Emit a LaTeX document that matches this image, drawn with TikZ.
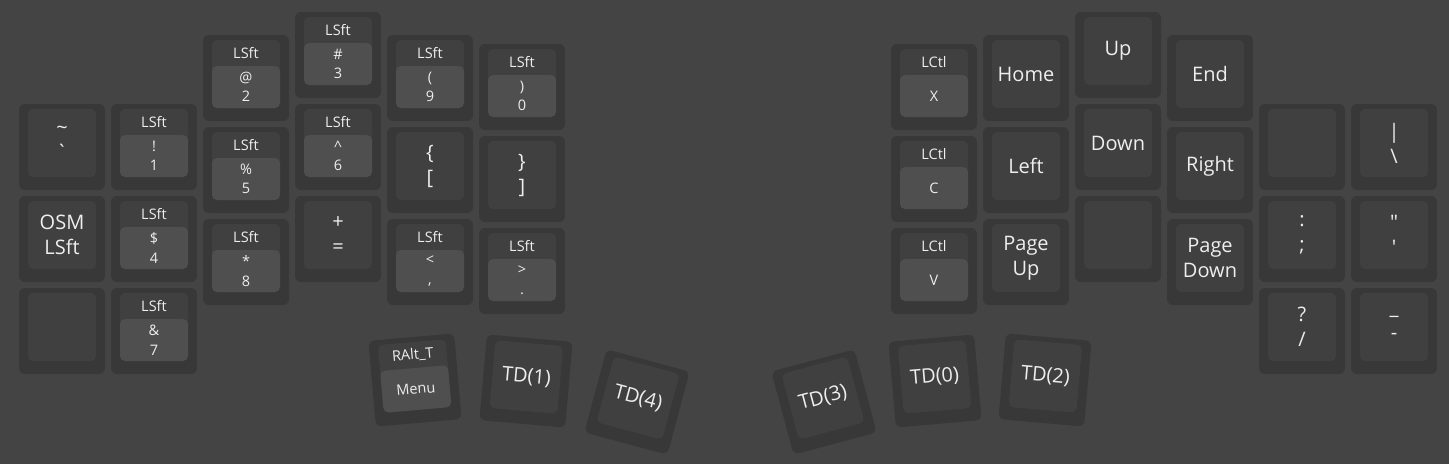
\documentclass[tikz,border=0pt]{standalone}
\usepackage{fontspec}
\setmainfont{Open Sans}
\usetikzlibrary{positioning}

\definecolor{boardbg}{HTML}{444444}
\definecolor{keyrim}{HTML}{383838}
\definecolor{keyface}{HTML}{404040}
\definecolor{tapface}{HTML}{4F4F4F}
\definecolor{legend}{HTML}{EEEEEE}

\newcommand{\legendfont}{\fontsize{20}{25}\selectfont}
\newcommand{\smallfont}{\fontsize{14.5}{19.5}\selectfont}

% name, x, y, angle, legend
\newcommand{\plainkey}[5]{%
  \begin{scope}[shift={(#2,#3)}, rotate=#4, transform shape]
    \node[keycap] (#1) at (0,0) {};
    \node[keytop] (#1-top) at (0,4) {#5};
  \end{scope}}

% name, x, y, angle, hold, tap
\newcommand{\holdkey}[6]{%
  \begin{scope}[shift={(#2,#3)}, rotate=#4, transform shape]
    \node[keycap] (#1) at (0,0) {};
    \node[keytop] (#1-top) at (0,4) {};
    \node[tapbox] (#1-tap) at (0,-9) {#6};
    \node[holdlabel] (#1-hold) at (0,25) {#5};
  \end{scope}}

\begin{document}
\begin{tikzpicture}[
  x=1pt, y=1pt,
  keycap/.style={fill=keyrim, rounded corners=6pt, minimum width=86pt,
    minimum height=86pt, inner sep=0pt},
  keytop/.style={fill=keyface, rounded corners=5pt, minimum width=68pt,
    minimum height=68pt, inner sep=0pt, align=center, text=legend, font=\legendfont},
  tapbox/.style={fill=tapface, rounded corners=5pt, minimum width=68pt,
    minimum height=42pt, inner sep=0pt, align=center, text=legend, font=\smallfont},
  holdlabel/.style={inner sep=0pt, text=legend, font=\smallfont}
]

\fill[boardbg] (0,0) rectangle (1449,-464);
\useasboundingbox (0,0) rectangle (1449,-464);

% left half
\plainkey{l0r0}{62}{-147}{0}{\textasciitilde\\\textasciigrave}
\plainkey{l0r1}{62}{-239}{0}{OSM\\LSft}
\plainkey{l0r2}{62}{-331}{0}{}
\holdkey{l1r0}{154}{-147}{0}{LSft}{!\\1}
\holdkey{l1r1}{154}{-239}{0}{LSft}{\$\\4}
\holdkey{l1r2}{154}{-331}{0}{LSft}{\&\\7}
\holdkey{l2r0}{246}{-78}{0}{LSft}{@\\2}
\holdkey{l2r1}{246}{-170}{0}{LSft}{\%\\5}
\holdkey{l2r2}{246}{-262}{0}{LSft}{*\\8}
\holdkey{l3r0}{338}{-55}{0}{LSft}{\#\\3}
\holdkey{l3r1}{338}{-147}{0}{LSft}{\textasciicircum\\6}
\plainkey{l3r2}{338}{-239}{0}{+\\=}
\holdkey{l4r0}{430}{-78}{0}{LSft}{(\\9}
\plainkey{l4r1}{430}{-170}{0}{\{\\{[}}
\holdkey{l4r2}{430}{-262}{0}{LSft}{<\\,}
\holdkey{l5r0}{522}{-87}{0}{LSft}{)\\0}
\plainkey{l5r1}{522}{-179}{0}{\}\\{]}}
\holdkey{l5r2}{522}{-271}{0}{LSft}{>\\.}

% right half
\holdkey{r0r0}{934}{-87}{0}{LCtl}{X}
\holdkey{r0r1}{934}{-179}{0}{LCtl}{C}
\holdkey{r0r2}{934}{-271}{0}{LCtl}{V}
\plainkey{r1r0}{1026}{-78}{0}{Home}
\plainkey{r1r1}{1026}{-170}{0}{Left}
\plainkey{r1r2}{1026}{-262}{0}{Page\\Up}
\plainkey{r2r0}{1118}{-55}{0}{Up}
\plainkey{r2r1}{1118}{-147}{0}{Down}
\plainkey{r2r2}{1118}{-239}{0}{}
\plainkey{r3r0}{1210}{-78}{0}{End}
\plainkey{r3r1}{1210}{-170}{0}{Right}
\plainkey{r3r2}{1210}{-262}{0}{Page\\Down}
\plainkey{r4r0}{1302}{-147}{0}{}
\plainkey{r4r1}{1302}{-239}{0}{:\\;}
\plainkey{r4r2}{1302}{-331}{0}{?\\/}
\plainkey{r5r0}{1394}{-147}{0}{\textbar\\\textbackslash}
\plainkey{r5r1}{1394}{-239}{0}{\textquotedbl\\\textquotesingle}
\plainkey{r5r2}{1394}{-331}{0}{\_\\-}

% thumbs
\holdkey{lt0}{415}{-380}{5}{RAlt\_T}{Menu}
\plainkey{lt1}{526}{-381}{-5}{TD(1)}
\plainkey{lt2}{637}{-402}{-15}{TD(4)}
\plainkey{rt0}{824}{-402}{15}{TD(3)}
\plainkey{rt1}{935}{-381}{5}{TD(0)}
\plainkey{rt2}{1045}{-380}{-5}{TD(2)}

\end{tikzpicture}
\end{document}
